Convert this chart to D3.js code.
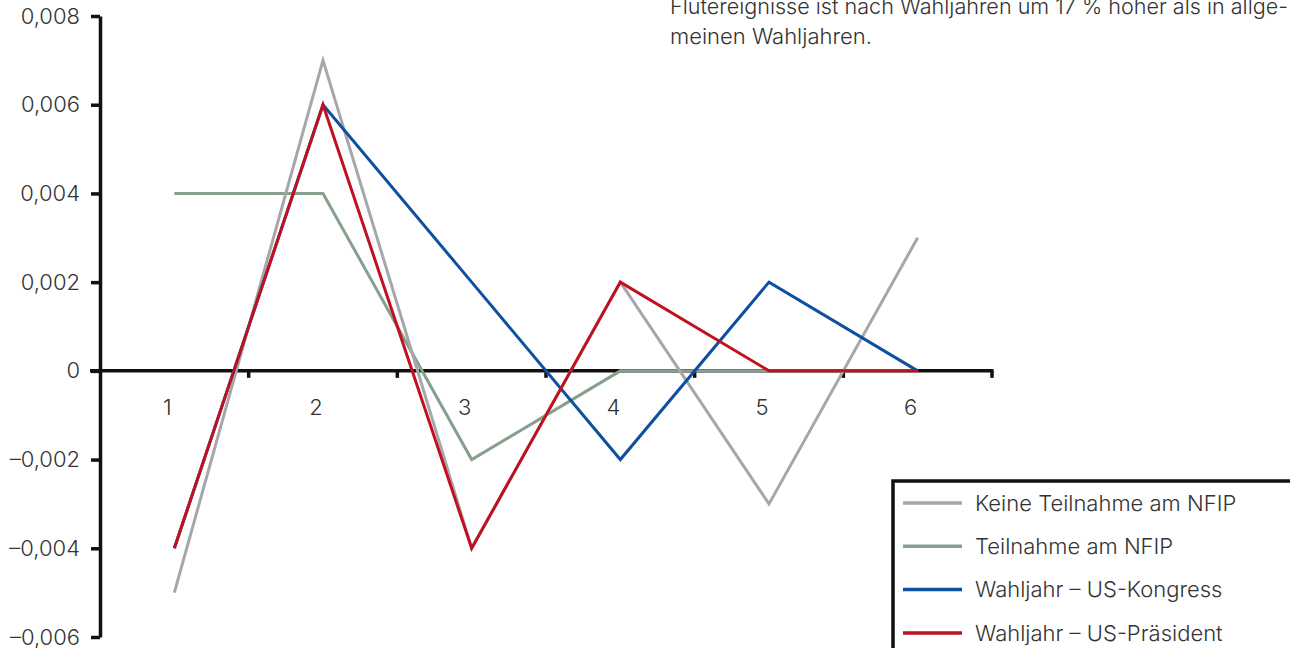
<!DOCTYPE html>
<html>
<head>
<meta charset="utf-8">
<script src="https://cdn.jsdelivr.net/npm/d3@7"></script>
<style>
	html, body { margin: 0; padding: 0; background: #fff; }
	svg { display: block; }
	text { font-family: Inter, "Liberation Sans", sans-serif; font-weight: 300; fill: #333; }
</style>
</head>
<body>
<div id="chart-area"></div>
<script>
// ** Data **
var periods = [1, 2, 3, 4, 5, 6];
var keineTeilnahme = [-0.005, 0.007, -0.004, 0.002, -0.003, 0.003];
var teilnahme = [0.004, 0.004, -0.002, 0, 0, 0];
var kongress = [-0.004, 0.006, 0.002, -0.002, 0.002, 0];
var praesident = [-0.004, 0.006, -0.004, 0.002, 0, 0];
var yTicks = [-0.006, -0.004, -0.002, 0, 0.002, 0.004, 0.006, 0.008];
var seriesNames = ["Keine Teilnahme am NFIP", "Teilnahme am NFIP", "Wahljahr – US-Kongress", "Wahljahr – US-Präsident"];
var noteLines = [
	"Flutereignisse ist nach Wahljahren um 17 % höher als in allge-",
	"meinen Wahljahren."
];

// ** Dimensions **
var width = 1290;
var height = 648;
var fontSize = 22;

var series = [
	{ name: seriesNames[0], values: keineTeilnahme, color: "#a7a7aa" },
	{ name: seriesNames[1], values: teilnahme, color: "#86a08d" },
	{ name: seriesNames[2], values: kongress, color: "#0f4fa0" },
	{ name: seriesNames[3], values: praesident, color: "#c0111f" }
];
// drawing order: green below grey, red on top
var drawOrder = [1, 0, 2, 3];

var svg = d3.select("#chart-area")
	.append("svg")
	.attr("width", width)
	.attr("height", height);

// German number format with en dash as minus
var de = d3.formatLocale({
	decimal: ",",
	thousands: ".",
	grouping: [3],
	currency: ["", " €"],
	minus: "\u2013"
});
var formatTick = function(d){
	return d === 0 ? "0" : de.format(".3f")(d);
};

// Scales
var x = d3.scaleBand()
	.domain(periods)
	.range([100, 992]);
var y = d3.scaleLinear()
	.domain([-0.006, 0.008])
	.range([637, 16]);

// Y Axis
var yAxisCall = d3.axisLeft(y)
	.tickValues(yTicks)
	.tickSize(9)
	.tickSizeOuter(0)
	.tickPadding(11)
	.tickFormat(formatTick);
var yAxis = svg.append("g")
	.attr("class", "y-axis")
	.attr("transform", "translate(100, 0)")
	.call(yAxisCall);
yAxis.select(".domain")
	.attr("stroke", "#111")
	.attr("stroke-width", 3.5);
yAxis.selectAll(".tick line")
	.attr("stroke", "#111")
	.attr("stroke-width", 3.5);
yAxis.selectAll(".tick text")
	.attr("font-family", null)
	.attr("font-size", fontSize)
	.attr("fill", "#333");

// X Axis: ticks on band boundaries, labels in the bands
var xAxis = svg.append("g")
	.attr("class", "x-axis");
xAxis.append("line")
	.attr("x1", 90)
	.attr("x2", x.range()[1] + 1.5)
	.attr("y1", y(0))
	.attr("y2", y(0))
	.attr("stroke", "#111")
	.attr("stroke-width", 3.5);
xAxis.selectAll(".xtick")
	.data(periods)
	.enter()
	.append("line")
	.attr("class", "xtick")
	.attr("x1", function(d){ return x(d) + x.bandwidth(); })
	.attr("x2", function(d){ return x(d) + x.bandwidth(); })
	.attr("y1", y(0))
	.attr("y2", y(0) + 7)
	.attr("stroke", "#111")
	.attr("stroke-width", 3.5);
xAxis.selectAll(".xlabel")
	.data(periods)
	.enter()
	.append("text")
	.attr("class", "xlabel")
	.attr("x", function(d){ return x(d) + x.bandwidth() / 2 - 7; })
	.attr("y", y(0) + 44)
	.attr("text-anchor", "middle")
	.attr("font-size", fontSize)
	.text(function(d){ return d; });

// Lines
var line = d3.line()
	.x(function(d, i){ return x(periods[i]) + x.bandwidth() / 2; })
	.y(function(d){ return y(d); });

svg.append("g")
	.selectAll("path")
	.data(drawOrder.map(function(i){ return series[i]; }))
	.enter()
	.append("path")
	.attr("d", function(s){ return line(s.values); })
	.attr("fill", "none")
	.attr("stroke", function(s){ return s.color; })
	.attr("stroke-width", 3)
	.attr("stroke-linejoin", "miter");

// Note text (top right, first line runs off the top edge as in the source)
var note = svg.append("g")
	.selectAll("text")
	.data(noteLines)
	.enter()
	.append("text")
	.attr("x", 670)
	.attr("y", function(d, i){ return 14 + i * 30; })
	.attr("font-size", fontSize)
	.text(function(d){ return d; });
// squeeze the first line so the hyphen ends at the right edge
note.filter(function(d, i){ return i === 0; })
	.attr("textLength", 618)
	.attr("lengthAdjust", "spacingAndGlyphs");

// ** Legend **
var legendRowHeight = 43.3;
var legend = svg.append("g")
	.attr("transform", "translate(893, 481)");
legend.append("rect")
	.attr("x", 0)
	.attr("y", 0)
	.attr("width", 500)
	.attr("height", 300)
	.attr("fill", "#fff")
	.attr("stroke", "#111")
	.attr("stroke-width", 3.5);

series.forEach(function(s, i){
	var legendRow = legend.append("g")
		.attr("transform", "translate(0, " + (22 + i * legendRowHeight) + ")");
	legendRow.append("line")
		.attr("x1", 10)
		.attr("x2", 69)
		.attr("stroke", s.color)
		.attr("stroke-width", 3.5);
	legendRow.append("text")
		.attr("x", 82)
		.attr("y", 0)
		.attr("dy", "0.35em")
		.attr("font-size", fontSize)
		.text(s.name);
});
</script>
</body>
</html>
